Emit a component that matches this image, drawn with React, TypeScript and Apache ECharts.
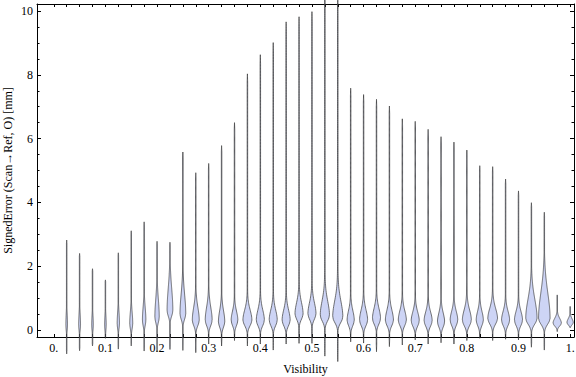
import React, { useEffect, useRef } from "react";
import * as echarts from "echarts";

// ---- data ----
const visibility = [
  0.025, 0.05, 0.075, 0.1, 0.125, 0.15, 0.175, 0.2, 0.225, 0.25,
  0.275, 0.3, 0.325, 0.35, 0.375, 0.4, 0.425, 0.45, 0.475, 0.5,
  0.525, 0.55, 0.575, 0.6, 0.625, 0.65, 0.675, 0.7, 0.725, 0.75,
  0.775, 0.8, 0.825, 0.85, 0.875, 0.9, 0.925, 0.95, 0.975, 1.0,
];
const maxError = [
  2.82, 2.4, 1.92, 1.57, 2.42, 3.11, 3.39, 2.78, 2.75, 5.58,
  4.93, 5.22, 5.78, 6.5, 8.03, 8.63, 9.01, 9.66, 9.82, 9.98,
  10.6, 10.5, 7.58, 7.38, 7.23, 7.02, 6.62, 6.54, 6.29, 6.06,
  5.89, 5.64, 5.15, 5.12, 4.73, 4.36, 3.99, 3.69, 1.1, 0.74,
];
const minError = [
  -0.75, -0.65, -0.5, -0.26, -0.6, -0.5, -0.66, -0.69, -0.61, -0.64,
  -0.71, -0.44, -0.5, -0.33, -0.5, -0.44, -0.63, -0.44, -0.42, -0.42,
  -0.82, -0.99, -0.37, -0.41, -0.68, -0.52, -0.47, -0.31, -0.44, -0.4,
  -0.44, -0.33, -0.26, -0.33, -0.29, -0.31, -0.54, -0.63, -0.05, 0.08,
];
const modeError = [
  0.15, 0.15, 0.15, 0.15, 0.2, 0.2, 0.3, 0.4, 0.6, 0.5,
  0.3, 0.3, 0.25, 0.3, 0.3, 0.3, 0.3, 0.3, 0.5, 0.5,
  0.45, 0.4, 0.3, 0.3, 0.35, 0.3, 0.3, 0.28, 0.28, 0.25,
  0.3, 0.3, 0.3, 0.35, 0.3, 0.3, 0.35, 0.35, 0.21, 0.23,
];
const peakDensity = [
  0.14, 0.16, 0.14, 0.14, 0.2, 0.26, 0.3, 0.38, 0.5, 0.5,
  0.6, 0.6, 0.55, 0.58, 0.78, 0.7, 0.7, 0.7, 0.7, 0.7,
  0.8, 0.88, 0.62, 0.7, 0.7, 0.7, 0.7, 0.7, 0.7, 0.62,
  0.66, 0.78, 0.62, 0.84, 0.7, 0.7, 0.98, 1.0, 0.72, 0.55,
];
const spreadUp = [
  0.35, 0.35, 0.3, 0.3, 0.35, 0.35, 0.4, 0.55, 0.7, 0.6,
  0.4, 0.4, 0.35, 0.28, 0.32, 0.32, 0.32, 0.32, 0.35, 0.35,
  0.45, 0.5, 0.3, 0.32, 0.32, 0.32, 0.3, 0.28, 0.28, 0.28,
  0.28, 0.32, 0.28, 0.32, 0.28, 0.28, 0.6, 0.8, 0.15, 0.12,
];
const xTickValues = [0, 0.1, 0.2, 0.3, 0.4, 0.5, 0.6, 0.7, 0.8, 0.9, 1.0];
const xTickLabels = ["0.", "0.1", "0.2", "0.3", "0.4", "0.5", "0.6", "0.7", "0.8", "0.9", "1."];
const yTickValues = [0, 2, 4, 6, 8, 10];
const yTickLabels = ["0", "2", "4", "6", "8", "10"];

const X_MIN = -0.0325;
const X_MAX = 1.0075;
const Y_MIN = -0.22;
const Y_MAX = 10.22;
const MAX_HALF_WIDTH = 5.5;
const FONT = "'Liberation Serif', 'Times New Roman', serif";

const xMinorTicks: number[] = [];
for (let i = 0; i <= 40; i++) xMinorTicks.push(+(i * 0.025).toFixed(3));
const yMinorTicks: number[] = [];
for (let i = 0; i <= 20; i++) yMinorTicks.push(i * 0.5);

function labelFor(values: number[], labels: string[]) {
  return (v: number) => {
    for (let i = 0; i < values.length; i++) if (Math.abs(values[i] - v) < 1e-6) return labels[i];
    return "";
  };
}

export default function App() {
  const ref = useRef<HTMLDivElement>(null);
  useEffect(() => {
    document.body.style.margin = "0";
    if (!ref.current) return;
    const chart = echarts.init(ref.current, null, { renderer: "svg" });

    const data = visibility.map((x, i) => [x, minError[i], maxError[i], modeError[i], peakDensity[i], spreadUp[i]]);

    const renderItem = (params: any, api: any) => {
      const x = api.value(0);
      const lo = api.value(1);
      const hi = api.value(2);
      const mode = api.value(3);
      const hw = api.value(4) * MAX_HALF_WIDTH;
      const sUp = api.value(5);
      const sDown = Math.min(0.17, sUp * 0.6);
      const N = 200;
      const right: number[][] = [];
      const left: number[][] = [];
      for (let j = 0; j <= N; j++) {
        const v = lo + ((hi - lo) * j) / N;
        const s = v > mode ? sUp : sDown;
        const core = Math.exp(-0.5 * Math.pow((v - mode) / s, 2));
        const tail = v > mode ? 0.05 * Math.exp(-0.5 * Math.pow((v - mode) / (0.35 * (hi - mode)), 2)) : 0;
        const t = Math.min(j, N - j) / N;
        const taper = Math.min(1, t / 0.03);
        const w = Math.max(hw * (core + tail), 0.25 * taper);
        const c = api.coord([x, v]);
        right.push([c[0] + w, c[1]]);
        left.unshift([c[0] - w, c[1]]);
      }
      return {
        type: "polygon",
        shape: { points: right.concat(left) },
        style: { fill: "#cdd4f5", stroke: "rgba(45,45,45,0.78)", lineWidth: 0.85 },
      };
    };

    const axisLineStyle = { show: true, lineStyle: { color: "#000", width: 1 } };

    chart.setOption({
      animation: false,
      grid: { left: 37, right: 2, top: 4, bottom: 40, outerBoundsMode: "none", containLabel: false },
      xAxis: [
        {
          type: "value",
          position: "bottom",
          min: X_MIN,
          max: X_MAX,
          axisLine: { ...axisLineStyle, onZero: false },
          axisTick: { show: true, inside: true, length: 3, customValues: xMinorTicks, lineStyle: { color: "#000" } },
          axisLabel: {
            customValues: xTickValues,
            formatter: labelFor(xTickValues, xTickLabels),
            color: "#000",
            fontFamily: FONT,
            fontSize: 12,
            margin: 5,
          },
          splitLine: { show: false },
          name: "Visibility",
          nameLocation: "middle",
          nameGap: 26,
          nameMoveOverlap: false,
          nameTextStyle: { color: "#000", fontFamily: FONT, fontSize: 12 },
        },
        {
          type: "value",
          position: "top",
          min: X_MIN,
          max: X_MAX,
          axisLine: { ...axisLineStyle, onZero: false },
          axisTick: { show: true, inside: true, length: 3, customValues: xMinorTicks, lineStyle: { color: "#000" } },
          axisLabel: { show: false },
          splitLine: { show: false },
        },
      ],
      yAxis: [
        {
          type: "value",
          position: "left",
          min: Y_MIN,
          max: Y_MAX,
          axisLine: { ...axisLineStyle, onZero: false },
          axisTick: { show: true, inside: true, length: 4, customValues: yTickValues, lineStyle: { color: "#000" } },
          axisLabel: {
            customValues: yTickValues,
            formatter: labelFor(yTickValues, yTickLabels),
            color: "#000",
            fontFamily: FONT,
            fontSize: 12,
            margin: 4,
          },
          splitLine: { show: false },
          name: "SignedError (Scan→Ref, O) [mm]",
          nameLocation: "middle",
          nameGap: 23,
          nameMoveOverlap: false,
          nameRotate: 90,
          nameTextStyle: { color: "#000", fontFamily: FONT, fontSize: 12 },
        },
        {
          type: "value",
          position: "right",
          min: Y_MIN,
          max: Y_MAX,
          axisLine: { ...axisLineStyle, onZero: false },
          axisTick: { show: true, inside: true, length: 4, customValues: yTickValues, lineStyle: { color: "#000" } },
          axisLabel: { show: false },
          splitLine: { show: false },
        },
        {
          type: "value",
          position: "left",
          min: Y_MIN,
          max: Y_MAX,
          axisLine: { show: false, onZero: false },
          axisTick: { show: true, inside: true, length: 2.5, customValues: yMinorTicks, lineStyle: { color: "#000" } },
          axisLabel: { show: false },
          splitLine: { show: false },
        },
        {
          type: "value",
          position: "right",
          min: Y_MIN,
          max: Y_MAX,
          axisLine: { show: false, onZero: false },
          axisTick: { show: true, inside: true, length: 2.5, customValues: yMinorTicks, lineStyle: { color: "#000" } },
          axisLabel: { show: false },
          splitLine: { show: false },
        },
      ],
      series: [
        {
          type: "custom",
          xAxisIndex: 0,
          yAxisIndex: 0,
          renderItem,
          clip: false,
          encode: { x: 0, y: [1, 2] },
          data,
        },
      ],
    });
    return () => chart.dispose();
  }, []);
  return <div ref={ref} style={{ width: 576, height: 377 }} />;
}
